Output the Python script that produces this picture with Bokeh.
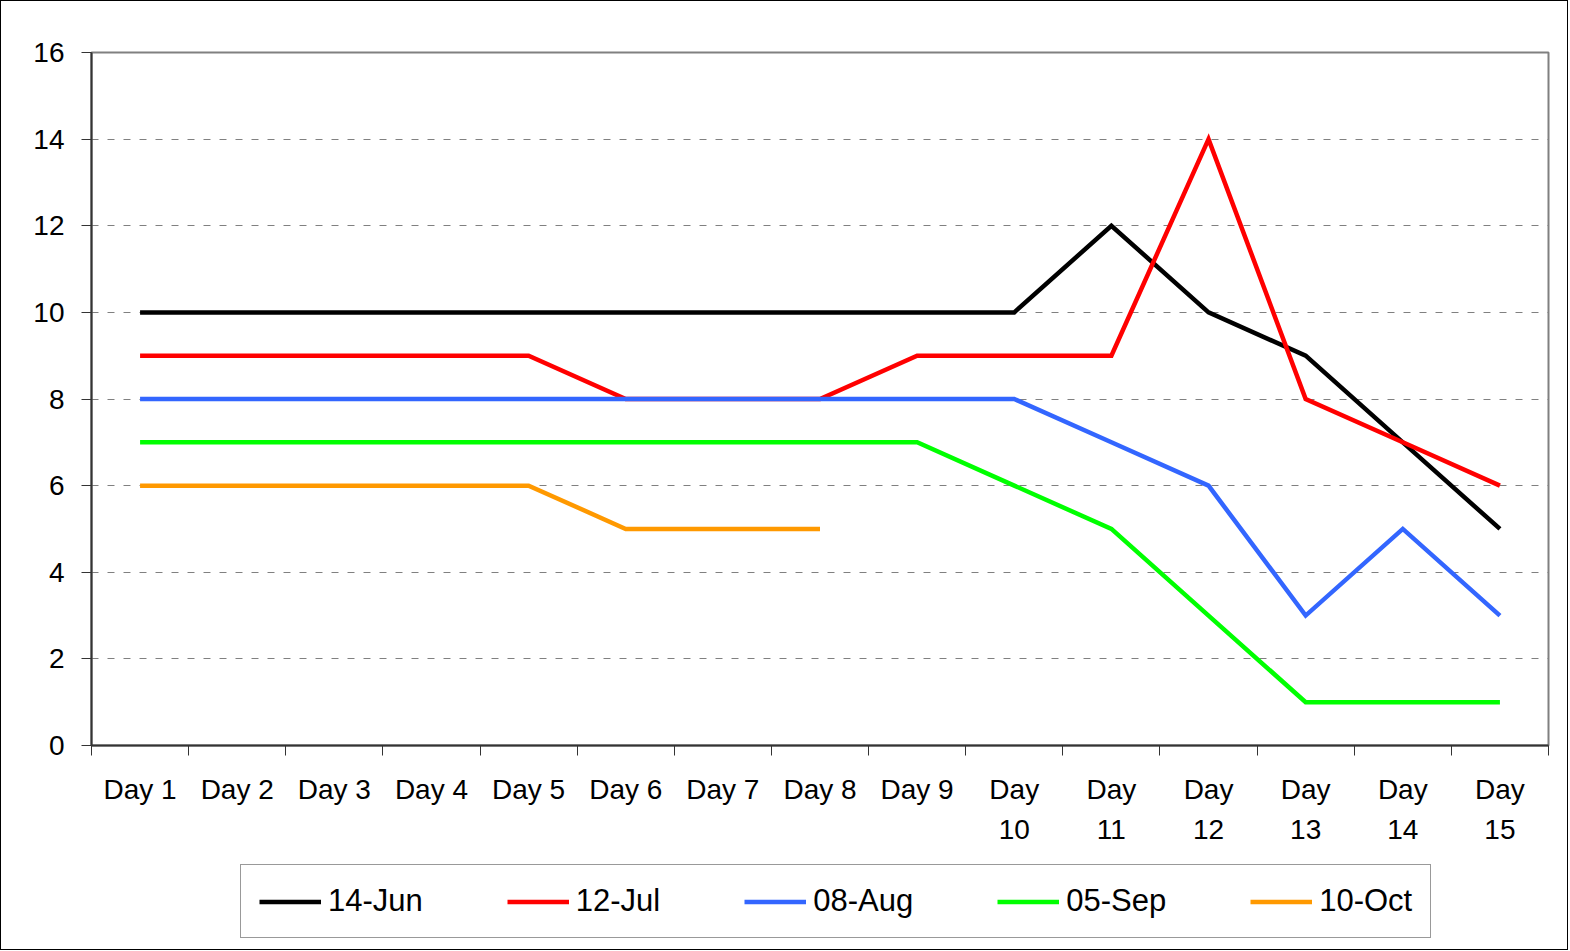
from bokeh.plotting import figure
from bokeh.layouts import column
from bokeh.models import FixedTicker, Legend, LegendItem, Range1d
from bokeh.embed import file_html
from bokeh.resources import INLINE

DAYS = ["Day 1", "Day 2", "Day 3", "Day 4", "Day 5", "Day 6", "Day 7", "Day 8",
        "Day 9", "Day\n10", "Day\n11", "Day\n12", "Day\n13", "Day\n14", "Day\n15"]

SERIES_NAMES = ["14-Jun", "12-Jul", "08-Aug", "05-Sep", "10-Oct"]
JUN14 = [10, 10, 10, 10, 10, 10, 10, 10, 10, 10, 12, 10, 9, 7, 5]
JUL12 = [9, 9, 9, 9, 9, 8, 8, 8, 9, 9, 9, 14, 8, 7, 6]
AUG08 = [8, 8, 8, 8, 8, 8, 8, 8, 8, 8, 7, 6, 3, 5, 3]
SEP05 = [7, 7, 7, 7, 7, 7, 7, 7, 7, 6, 5, 3, 1, 1, 1]
OCT10 = [6, 6, 6, 6, 6, 5, 5, 5]
COLORS = ["#000000", "#FF0000", "#3366FF", "#00FF00", "#FF9900"]

FONT = "Liberation Sans"

p = figure(width=1566, height=860, output_backend="svg", toolbar_location=None,
           x_range=Range1d(0.5, len(DAYS) + 0.5), y_range=Range1d(0, 16),
           min_border_left=90, min_border_right=19, min_border_top=51,
           min_border_bottom=116)

p.outline_line_color = "#808080"
p.outline_line_width = 2

xt = FixedTicker(ticks=list(range(1, len(DAYS) + 1)),
                 minor_ticks=[i + 0.5 for i in range(0, len(DAYS) + 1)])
p.xaxis.ticker = xt
p.xaxis.major_label_overrides = {i + 1: d for i, d in enumerate(DAYS)}
p.xaxis.major_tick_line_color = None
p.xaxis.major_tick_out = 0
p.xaxis.major_tick_in = 0
p.xaxis.minor_tick_line_color = "#333333"
p.xaxis.minor_tick_out = 10
p.xaxis.minor_tick_in = 0
p.xaxis.axis_line_color = "#333333"
p.xaxis.axis_line_width = 2
p.xaxis.major_label_standoff = 18
p.xaxis.major_label_text_font = FONT
p.xaxis.major_label_text_font_size = "28px"
p.xaxis.major_label_text_color = "#000000"
p.xaxis.major_label_text_line_height = 1.3
p.xaxis.major_label_orientation = "horizontal"

p.yaxis.ticker = FixedTicker(ticks=list(range(0, 17, 2)))
p.yaxis.minor_tick_line_color = None
p.yaxis.major_tick_out = 10
p.yaxis.major_tick_in = 0
p.yaxis.major_tick_line_color = "#333333"
p.yaxis.axis_line_color = "#333333"
p.yaxis.axis_line_width = 2
p.yaxis.major_label_standoff = 17
p.yaxis.major_label_text_font = FONT
p.yaxis.major_label_text_font_size = "28px"
p.yaxis.major_label_text_color = "#000000"

p.xgrid.grid_line_color = None
p.ygrid.ticker = FixedTicker(ticks=list(range(2, 16, 2)))
p.ygrid.grid_line_color = "#808080"
p.ygrid.grid_line_dash = "7 9"
p.ygrid.grid_line_width = 1

# legend strip below the chart (its lines lie outside its visible range;
# only their legend keys show)
lg = figure(width=1566, height=88, output_backend="svg", toolbar_location=None,
            x_axis_type=None, y_axis_type=None, min_border=0,
            min_border_left=0, min_border_right=0, min_border_top=0,
            min_border_bottom=0, x_range=Range1d(0.5, len(DAYS) + 0.5),
            y_range=Range1d(-100, -99))
lg.outline_line_color = None
lg.grid.grid_line_color = None

items = []
for name, vals, col in zip(SERIES_NAMES, [JUN14, JUL12, AUG08, SEP05, OCT10], COLORS):
    xs = list(range(1, len(vals) + 1))
    p.line(xs, vals, line_color=col, line_width=4.5, line_join="miter")
    key = lg.line(xs, vals, line_color=col, line_width=4.5)
    items.append(LegendItem(label=name, renderers=[key]))

legend = Legend(items=items, orientation="horizontal", location=(149, 11),
                label_text_font=FONT, label_text_font_size="31px",
                label_text_color="#000000",
                glyph_width=62, glyph_height=31, label_standoff=7, spacing=84,
                padding=18, margin=0,
                border_line_color="#333333", border_line_width=1,
                background_fill_color="#FFFFFF")
lg.add_layout(legend, "center")

layout = column(p, lg, spacing=0)
layout.styles = {"border": "1px solid #000000"}

open("out.html", "w").write(file_html(layout, INLINE))
